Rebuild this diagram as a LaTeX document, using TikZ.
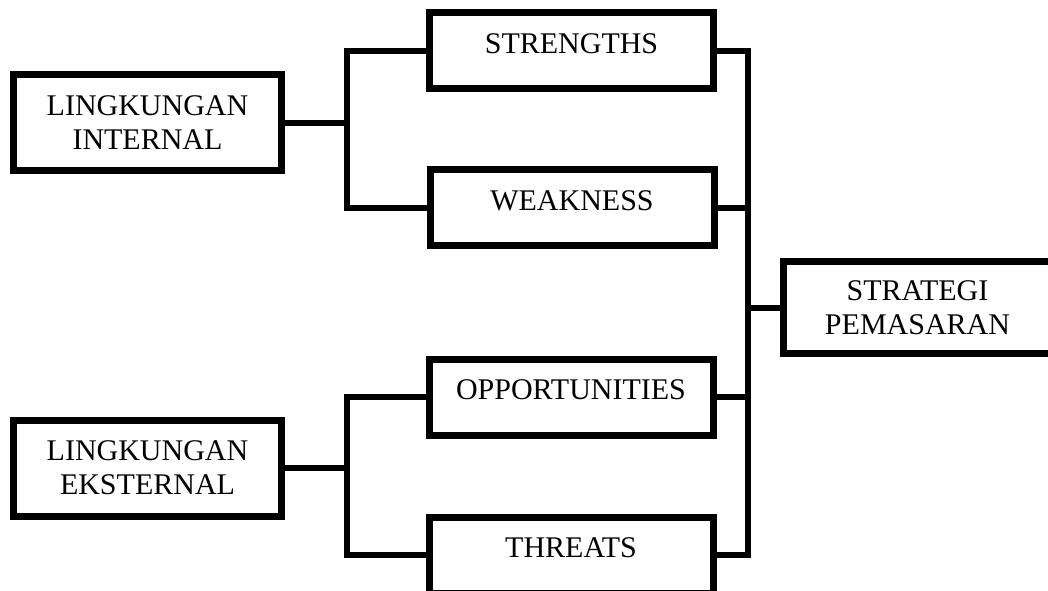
\documentclass[tikz,border=0pt]{standalone}
\usepackage{fontspec}
\setmainfont{Liberation Serif}
\begin{document}
\begin{tikzpicture}[x=1pt,y=-1pt,
  every node/.style={font=\fontsize{30}{34}\selectfont},
  box/.style={draw=black, line width=7pt, inner sep=0pt, align=center},
  bigbox/.style={box, minimum width=268pt, minimum height=96pt},
  swotbox/.style={box, minimum width=284pt, minimum height=76pt, text height=20pt, text depth=15pt},
  conn/.style={draw=black, line width=6pt, line cap=rect, line join=miter}]
\useasboundingbox (0,0) rectangle (1048,590);
\node[bigbox] (li) at (147.5,122.5) {LINGKUNGAN\\INTERNAL};
\node[bigbox] (le) at (147.5,468) {LINGKUNGAN\\EKSTERNAL};
\node[swotbox] (s) at (571.5,50.5) {STRENGTHS};
\node[swotbox] (w) at (572,207.5) {WEAKNESS};
\node[swotbox] (o) at (571,397) {OPPORTUNITIES};
\node[swotbox] (t) at (571,555) {THREATS};
\node[bigbox, minimum height=92pt] (sp) at (917.5,307.5) {STRATEGI\\PEMASARAN};
\coordinate (jl) at (347,0);
\coordinate (jr) at (748,0);
\draw[conn] (s.west) -- (s.west -| jl) -- (w.west -| jl) -- (w.west);
\draw[conn] (li.east) -- (li.east -| jl);
\draw[conn] (o.west) -- (o.west -| jl) -- (t.west -| jl) -- (t.west);
\draw[conn] (le.east) -- (le.east -| jl);
\draw[conn] (s.east) -- (s.east -| jr) -- (t.east -| jr) -- (t.east);
\draw[conn] (w.east) -- (w.east -| jr);
\draw[conn] (o.east) -- (o.east -| jr);
\draw[conn] (sp.west) -- (sp.west -| jr);
\end{tikzpicture}
\end{document}
